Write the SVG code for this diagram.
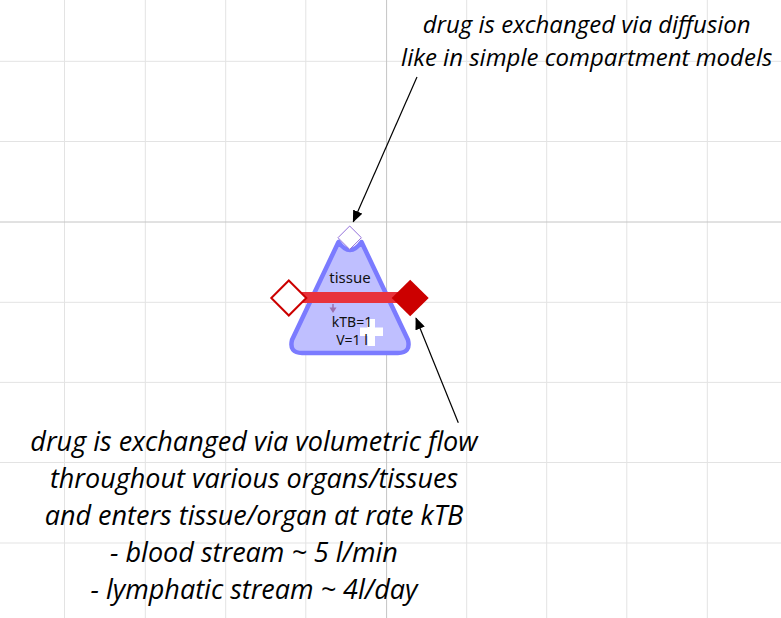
<svg xmlns="http://www.w3.org/2000/svg" width="781" height="618" viewBox="0 0 781 618">
<style>
.grid line{stroke:#e3e3e3;stroke-width:1}
.grid line.axis{stroke:#c4c4c4}
.note{font-family:"Open Sans","Noto Sans",sans-serif;font-style:italic;fill:#000;text-anchor:middle}
.lbl{font-family:"Noto Sans","Open Sans",sans-serif;font-size:15px;fill:#111;text-anchor:middle}
.lbl.sm{font-size:14px}
.conn{stroke:#000;stroke-width:1.2;fill:none;marker-end:url(#ah)}
</style>
<defs>
<marker id="ah" markerWidth="12" markerHeight="10" refX="11" refY="5" orient="auto" markerUnits="userSpaceOnUse">
<path d="M0,0 L12,5 L0,10 Z" fill="#000"/>
</marker>
</defs>
<rect width="781" height="618" fill="#fff"/>
<g class="grid">
<line x1="64.5" y1="0" x2="64.5" y2="618"/>
<line x1="145.3" y1="0" x2="145.3" y2="618"/>
<line x1="225.7" y1="0" x2="225.7" y2="618"/>
<line x1="305.8" y1="0" x2="305.8" y2="618"/>
<line x1="466.7" y1="0" x2="466.7" y2="618"/>
<line x1="546.7" y1="0" x2="546.7" y2="618"/>
<line x1="626.8" y1="0" x2="626.8" y2="618"/>
<line x1="707.3" y1="0" x2="707.3" y2="618"/>
<line x1="0" y1="61.3" x2="781" y2="61.3"/>
<line x1="0" y1="141.5" x2="781" y2="141.5"/>
<line x1="0" y1="302.3" x2="781" y2="302.3"/>
<line x1="0" y1="382.4" x2="781" y2="382.4"/>
<line x1="0" y1="462.5" x2="781" y2="462.5"/>
<line x1="0" y1="543" x2="781" y2="543"/>
<line class="axis" x1="386.6" y1="0" x2="386.6" y2="618"/>
<line class="axis" x1="0" y1="222" x2="781" y2="222"/>
</g>
<g id="tissue">
<path d="M338.5,242 L292,340 Q289,353 302,353 L398,353 Q411,353 408,340 L361.5,242 Q350,258 338.5,242 Z" fill="#bfbfff" stroke="#7b7bff" stroke-width="4.5" stroke-linejoin="round"/>
<path d="M360,327.5 H383 V336 H360 Z M367.5,319 H375 V346 H367.5 Z" fill="#fff"/>
<text class="lbl" x="350" y="282.5">tissue</text>
<text class="lbl sm" x="352" y="327">kTB=1</text>
<text class="lbl sm" x="352" y="345">V=1 l</text>
</g>
<g id="diffusion-port">
<path d="M349.7,226 L361.4,237.7 L349.7,249.4 L338,237.7 Z" fill="#fff" stroke="#9370db" stroke-width="1"/>
</g>
<g id="flow">
<rect x="300" y="292" width="100" height="11" fill="#e8333c"/>
<path d="M333,304 V308" stroke="#9a6fb0" stroke-width="1.5"/>
<path d="M329.5,307.5 L336.5,307.5 L333,313 Z" fill="#9a6fb0"/>
</g>
<g id="flow-in">
<path d="M288.8,280.5 L306.3,298 L288.8,315.5 L271.3,298 Z" fill="#fff" stroke="#cc0000" stroke-width="2"/>
</g>
<g id="flow-out">
<path d="M410.2,279.7 L428.7,298 L410.2,316.3 L391.7,298 Z" fill="#cc0000"/>
</g>
<g id="connectors">
<line class="conn" x1="417" y1="77" x2="353.3" y2="221.7"/>
<line class="conn" x1="458.3" y1="422.7" x2="416" y2="318.3"/>
</g>
<g id="note-diffusion">
<text class="note" font-size="24" x="586.7" y="33.3">drug is exchanged via diffusion</text>
<text class="note" font-size="24" x="586.7" y="65.7">like in simple compartment models</text>
</g>
<g id="note-flow">
<text class="note" font-size="27" x="254" y="451">drug is exchanged via volumetric flow</text>
<text class="note" font-size="27" x="254" y="488">throughout various organs/tissues</text>
<text class="note" font-size="27" x="254" y="525">and enters tissue/organ at rate kTB</text>
<text class="note" font-size="27" x="254" y="562">- blood stream ~ 5 l/min</text>
<text class="note" font-size="27" x="254" y="599">- lymphatic stream ~ 4l/day</text>
</g>
</svg>
